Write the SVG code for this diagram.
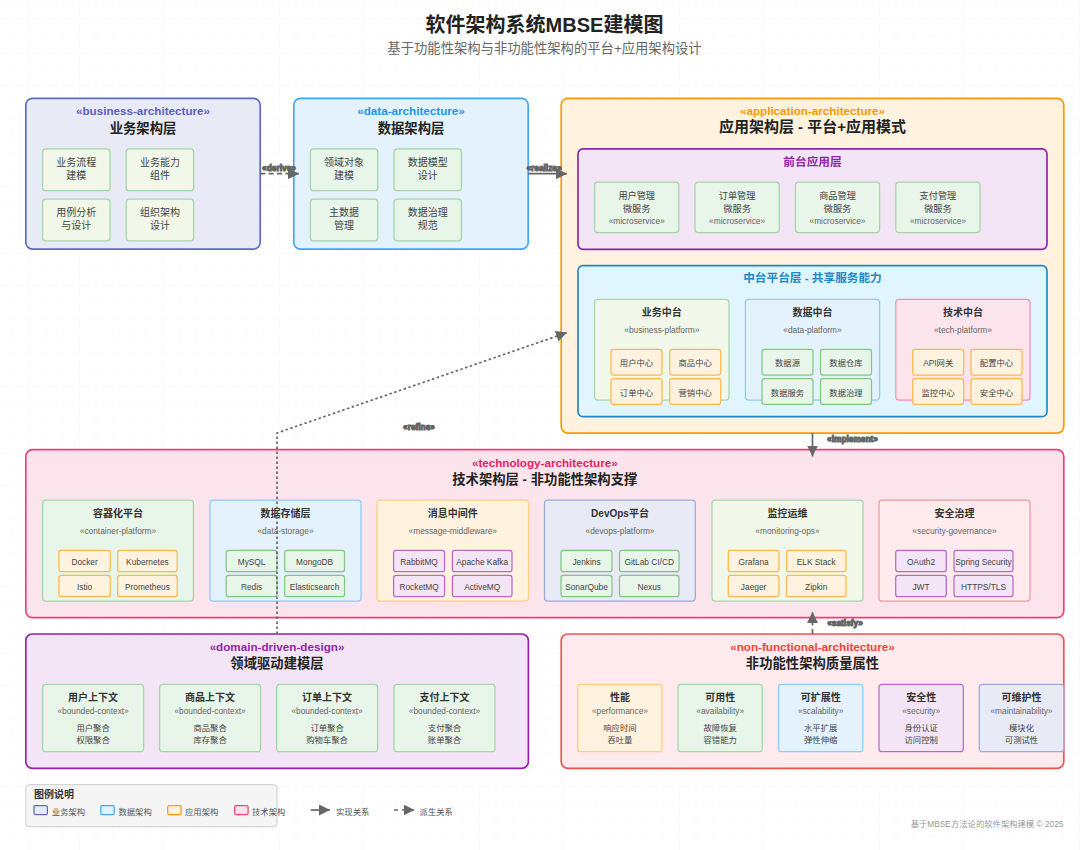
<svg xmlns="http://www.w3.org/2000/svg" width="1080" height="850" viewBox="0 0 1080 850">
<style>
text{font-family:"Liberation Sans","Noto Sans CJK SC",sans-serif;text-anchor:middle;fill:#333}
.title{font-size:20px;font-weight:700;fill:#222}
.subtitle{font-size:13.33px;fill:#666}
.st{font-size:11.67px;font-weight:700}
.h13{font-size:13.33px;font-weight:700;fill:#222}
.h15{font-size:15px;font-weight:700;fill:#222}
.h11{font-size:11.67px;font-weight:700}
.h10{font-size:10px;font-weight:700;fill:#333}
.t10{font-size:10px;fill:#444}
.t9{font-size:9.17px;fill:#444}
.t8{font-size:8.33px;fill:#444}
.s8{font-size:8.33px;fill:#666}
.cl{font-size:8.33px;font-weight:700;fill:#555;stroke:#666;stroke-width:1}
.foot{font-size:8.33px;fill:#999;text-anchor:end}
.lg{font-size:8.33px;fill:#555;text-anchor:start}
.layer{stroke-width:1.67}
.box{stroke-width:1.25}
.bz{fill:#e8eaf6;stroke:#5c6bc0}
.dt{fill:#e3f2fd;stroke:#42a5f5}
.ap{fill:#fff3e0;stroke:#ff9800}
.fr{fill:#f3e5f5;stroke:#8e24aa}
.md{fill:#e1f5fe;stroke:#1e88c8}
.tc{fill:#fce4ec;stroke:#ec407a}
.dd{fill:#f3e5f5;stroke:#8e24aa}
.nf{fill:#ffebee;stroke:#ef5350}
.lime{fill:#f1f8e9;stroke:#a5d6a7}
.green{fill:#e8f5e9;stroke:#a5d6a7}
.igreen{fill:#e8f5e9;stroke:#81c784}
.blue{fill:#e3f2fd;stroke:#90caf9}
.orange{fill:#fff3e0;stroke:#ffcc80}
.iorange{fill:#fff3e0;stroke:#ffb74d}
.pink{fill:#fce4ec;stroke:#f48fb1}
.indigo{fill:#e8eaf6;stroke:#9fa8da}
.red{fill:#ffebee;stroke:#ef9a9a}
.purple{fill:#f3e5f5;stroke:#ba68c8}
.conn{fill:none;stroke:#666;stroke-width:1.67}
</style>
<defs>
<pattern id="grid" width="16.667" height="16.667" patternUnits="userSpaceOnUse" patternTransform="translate(12.2 2.2)">
<path d="M0 0V16.667M0 0H16.667" fill="none" stroke="#f7f7f7" stroke-width="1"/>
</pattern>
<marker id="arrow" markerUnits="userSpaceOnUse" markerWidth="11" markerHeight="11" refX="11" refY="5.5" orient="auto">
<path d="M0 0L11 5.5L0 11z" fill="#666"/>
</marker>
</defs>
<rect width="1080" height="850" fill="#fff"/>
<rect width="1080" height="850" fill="url(#grid)"/>

<g id="header">
<text class="title" x="544.5" y="31.5">软件架构系统MBSE建模图</text>
<text class="subtitle" x="544.5" y="52.5">基于功能性架构与非功能性架构的平台+应用架构设计</text>
</g>

<g id="business-architecture">
<rect class="layer bz" x="25.8" y="98.3" width="234.4" height="150.8" rx="6.67"/>
<text class="st" x="143" y="115.3" style="fill:#5c5fc0">«business-architecture»</text>
<text class="h13" x="143" y="132.5">业务架构层</text>
<rect class="box lime" x="42.6" y="148.8" width="67.4" height="41.9" rx="3.3"/>
<text class="t10" x="76.3" y="165.5">业务流程</text><text class="t10" x="76.3" y="178.5">建模</text>
<rect class="box lime" x="126.2" y="148.8" width="67.4" height="41.9" rx="3.3"/>
<text class="t10" x="159.9" y="165.5">业务能力</text><text class="t10" x="159.9" y="178.5">组件</text>
<rect class="box lime" x="42.6" y="199" width="67.4" height="41.9" rx="3.3"/>
<text class="t10" x="76.3" y="215.5">用例分析</text><text class="t10" x="76.3" y="228.5">与设计</text>
<rect class="box lime" x="126.2" y="199" width="67.4" height="41.9" rx="3.3"/>
<text class="t10" x="159.9" y="215.5">组织架构</text><text class="t10" x="159.9" y="228.5">设计</text>
</g>

<g id="data-architecture">
<rect class="layer dt" x="293.8" y="98.3" width="234.4" height="150.8" rx="6.67"/>
<text class="st" x="411" y="115.3" style="fill:#2196f3">«data-architecture»</text>
<text class="h13" x="411" y="132.5">数据架构层</text>
<rect class="box green" x="310.4" y="148.8" width="67.4" height="41.9" rx="3.3"/>
<text class="t10" x="344.1" y="165.5">领域对象</text><text class="t10" x="344.1" y="178.5">建模</text>
<rect class="box green" x="394" y="148.8" width="67.4" height="41.9" rx="3.3"/>
<text class="t10" x="427.7" y="165.5">数据模型</text><text class="t10" x="427.7" y="178.5">设计</text>
<rect class="box green" x="310.4" y="199" width="67.4" height="41.9" rx="3.3"/>
<text class="t10" x="344.1" y="215.5">主数据</text><text class="t10" x="344.1" y="228.5">管理</text>
<rect class="box green" x="394" y="199" width="67.4" height="41.9" rx="3.3"/>
<text class="t10" x="427.7" y="215.5">数据治理</text><text class="t10" x="427.7" y="228.5">规范</text>
</g>

<g id="application-architecture">
<rect class="layer ap" x="561.2" y="98.3" width="502.6" height="334.8" rx="6.67"/>
<text class="st" x="812.5" y="115.3" style="fill:#ff9800">«application-architecture»</text>
<text class="h15" x="812.5" y="132">应用架构层 - 平台+应用模式</text>
</g>

<g id="frontend-apps">
<rect class="layer fr" x="578" y="148.9" width="469" height="100.4" rx="5"/>
<text class="h11" x="812.5" y="165.8" style="fill:#8e24aa">前台应用层</text>
<rect class="box green" x="594.6" y="182" width="84.2" height="50.6" rx="3.3"/>
<text class="t9" x="636.7" y="199">用户管理</text><text class="t9" x="636.7" y="212.3">微服务</text><text class="s8" x="636.7" y="224">«microservice»</text>
<rect class="box green" x="695" y="182" width="84.2" height="50.6" rx="3.3"/>
<text class="t9" x="737.1" y="199">订单管理</text><text class="t9" x="737.1" y="212.3">微服务</text><text class="s8" x="737.1" y="224">«microservice»</text>
<rect class="box green" x="795.4" y="182" width="84.2" height="50.6" rx="3.3"/>
<text class="t9" x="837.5" y="199">商品管理</text><text class="t9" x="837.5" y="212.3">微服务</text><text class="s8" x="837.5" y="224">«microservice»</text>
<rect class="box green" x="895.8" y="182" width="84.2" height="50.6" rx="3.3"/>
<text class="t9" x="937.9" y="199">支付管理</text><text class="t9" x="937.9" y="212.3">微服务</text><text class="s8" x="937.9" y="224">«microservice»</text>
</g>

<g id="platform-layer">
<rect class="layer md" x="578" y="265.7" width="469" height="151" rx="5"/>
<text class="h11" x="812.5" y="282.4" style="fill:#1e88c8">中台平台层 - 共享服务能力</text>
</g>
<g id="business-platform">
<rect class="box lime" x="594.6" y="299.3" width="134.4" height="100.7" rx="3.3"/>
<text class="h10" x="661.8" y="316">业务中台</text><text class="s8" x="661.8" y="333">«business-platform»</text>
<rect class="box iorange" x="611" y="349.3" width="51" height="25.7" rx="2.5"/><text class="t8" x="636.5" y="366.3">用户中心</text>
<rect class="box iorange" x="669.7" y="349.3" width="51" height="25.7" rx="2.5"/><text class="t8" x="695.2" y="366.3">商品中心</text>
<rect class="box iorange" x="611" y="378.7" width="51" height="25.7" rx="2.5"/><text class="t8" x="636.5" y="396">订单中心</text>
<rect class="box iorange" x="669.7" y="378.7" width="51" height="25.7" rx="2.5"/><text class="t8" x="695.2" y="396">营销中心</text>
</g>
<g id="data-platform">
<rect class="box blue" x="745.4" y="299.3" width="134.2" height="100.7" rx="3.3"/>
<text class="h10" x="812.5" y="316">数据中台</text><text class="s8" x="812.5" y="333">«data-platform»</text>
<rect class="box igreen" x="762" y="349.3" width="51" height="25.7" rx="2.5"/><text class="t8" x="787.5" y="366.3">数据源</text>
<rect class="box igreen" x="820.5" y="349.3" width="51" height="25.7" rx="2.5"/><text class="t8" x="846" y="366.3">数据仓库</text>
<rect class="box igreen" x="762" y="378.7" width="51" height="25.7" rx="2.5"/><text class="t8" x="787.5" y="396">数据服务</text>
<rect class="box igreen" x="820.5" y="378.7" width="51" height="25.7" rx="2.5"/><text class="t8" x="846" y="396">数据治理</text>
</g>
<g id="tech-platform">
<rect class="box pink" x="895.8" y="299.3" width="134.2" height="100.7" rx="3.3"/>
<text class="h10" x="962.9" y="316">技术中台</text><text class="s8" x="962.9" y="333">«tech-platform»</text>
<rect class="box iorange" x="912.7" y="349.3" width="51" height="25.7" rx="2.5"/><text class="t8" x="938.2" y="366.3">API网关</text>
<rect class="box iorange" x="971" y="349.3" width="51" height="25.7" rx="2.5"/><text class="t8" x="996.5" y="366.3">配置中心</text>
<rect class="box iorange" x="912.7" y="378.7" width="51" height="25.7" rx="2.5"/><text class="t8" x="938.2" y="396">监控中心</text>
<rect class="box iorange" x="971" y="378.7" width="51" height="25.7" rx="2.5"/><text class="t8" x="996.5" y="396">安全中心</text>
</g>

<g id="technology-architecture">
<rect class="layer tc" x="25.8" y="449.7" width="1038" height="168" rx="6.67"/>
<text class="st" x="544.8" y="466.7" style="fill:#e91e63">«technology-architecture»</text>
<text class="h13" x="544.8" y="483.5">技术架构层 - 非功能性架构支撑</text>
</g>
<g id="container-platform">
<rect class="box green" x="42.6" y="500" width="150.8" height="101" rx="3.3"/>
<text class="h10" x="118" y="517">容器化平台</text><text class="s8" x="118" y="534">«container-platform»</text>
<rect class="box iorange" x="58.9" y="550.3" width="51.4" height="21.4" rx="2.5"/><text class="t8" x="84.6" y="565">Docker</text>
<rect class="box iorange" x="117.7" y="550.3" width="59.5" height="21.4" rx="2.5"/><text class="t8" x="147.4" y="565">Kubernetes</text>
<rect class="box iorange" x="58.9" y="575.3" width="51.4" height="21.4" rx="2.5"/><text class="t8" x="84.6" y="590">Istio</text>
<rect class="box iorange" x="117.7" y="575.3" width="59.5" height="21.4" rx="2.5"/><text class="t8" x="147.4" y="590">Prometheus</text>
</g>
<g id="data-storage">
<rect class="box blue" x="210" y="500" width="151" height="101" rx="3.3"/>
<text class="h10" x="285.5" y="517">数据存储层</text><text class="s8" x="285.5" y="534">«data-storage»</text>
<rect class="box igreen" x="226.2" y="550.3" width="50.8" height="21.4" rx="2.5"/><text class="t8" x="251.6" y="565">MySQL</text>
<rect class="box igreen" x="284.7" y="550.3" width="59.8" height="21.4" rx="2.5"/><text class="t8" x="314.6" y="565">MongoDB</text>
<rect class="box igreen" x="226.2" y="575.3" width="50.8" height="21.4" rx="2.5"/><text class="t8" x="251.6" y="590">Redis</text>
<rect class="box igreen" x="284.7" y="575.3" width="59.8" height="21.4" rx="2.5"/><text class="t8" x="314.6" y="590">Elasticsearch</text>
</g>
<g id="message-middleware">
<rect class="box orange" x="377" y="500" width="151.5" height="101" rx="3.3"/>
<text class="h10" x="452.8" y="517">消息中间件</text><text class="s8" x="452.8" y="534">«message-middleware»</text>
<rect class="box purple" x="393.6" y="550.3" width="51" height="21.4" rx="2.5"/><text class="t8" x="419.1" y="565">RabbitMQ</text>
<rect class="box purple" x="452.4" y="550.3" width="59.6" height="21.4" rx="2.5"/><text class="t8" x="482.2" y="565">Apache Kafka</text>
<rect class="box purple" x="393.6" y="575.3" width="51" height="21.4" rx="2.5"/><text class="t8" x="419.1" y="590">RocketMQ</text>
<rect class="box purple" x="452.4" y="575.3" width="59.6" height="21.4" rx="2.5"/><text class="t8" x="482.2" y="590">ActiveMQ</text>
</g>
<g id="devops-platform">
<rect class="box indigo" x="544.5" y="500" width="150.8" height="101" rx="3.3"/>
<text class="h10" x="620" y="517">DevOps平台</text><text class="s8" x="620" y="534">«devops-platform»</text>
<rect class="box igreen" x="561" y="550.3" width="51" height="21.4" rx="2.5"/><text class="t8" x="586.5" y="565">Jenkins</text>
<rect class="box igreen" x="619.5" y="550.3" width="59.5" height="21.4" rx="2.5"/><text class="t8" x="649.2" y="565">GitLab CI/CD</text>
<rect class="box igreen" x="561" y="575.3" width="51" height="21.4" rx="2.5"/><text class="t8" x="586.5" y="590">SonarQube</text>
<rect class="box igreen" x="619.5" y="575.3" width="59.5" height="21.4" rx="2.5"/><text class="t8" x="649.2" y="590">Nexus</text>
</g>
<g id="monitoring-ops">
<rect class="box lime" x="712" y="500" width="151" height="101" rx="3.3"/>
<text class="h10" x="787.5" y="517">监控运维</text><text class="s8" x="787.5" y="534">«monitoring-ops»</text>
<rect class="box iorange" x="728.3" y="550.3" width="50.7" height="21.4" rx="2.5"/><text class="t8" x="753.6" y="565">Grafana</text>
<rect class="box iorange" x="786.5" y="550.3" width="59.5" height="21.4" rx="2.5"/><text class="t8" x="816.2" y="565">ELK Stack</text>
<rect class="box iorange" x="728.3" y="575.3" width="50.7" height="21.4" rx="2.5"/><text class="t8" x="753.6" y="590">Jaeger</text>
<rect class="box iorange" x="786.5" y="575.3" width="59.5" height="21.4" rx="2.5"/><text class="t8" x="816.2" y="590">Zipkin</text>
</g>
<g id="security-governance">
<rect class="box red" x="879" y="500" width="151" height="101" rx="3.3"/>
<text class="h10" x="954.5" y="517">安全治理</text><text class="s8" x="954.5" y="534">«security-governance»</text>
<rect class="box purple" x="895.7" y="550.3" width="50.6" height="21.4" rx="2.5"/><text class="t8" x="921" y="565">OAuth2</text>
<rect class="box purple" x="954" y="550.3" width="59" height="21.4" rx="2.5"/><text class="t8" x="983.5" y="565">Spring Security</text>
<rect class="box purple" x="895.7" y="575.3" width="50.6" height="21.4" rx="2.5"/><text class="t8" x="921" y="590">JWT</text>
<rect class="box purple" x="954" y="575.3" width="59" height="21.4" rx="2.5"/><text class="t8" x="983.5" y="590">HTTPS/TLS</text>
</g>

<g id="domain-driven-design">
<rect class="layer dd" x="25.8" y="634" width="502.6" height="134.3" rx="6.67"/>
<text class="st" x="277" y="650.7" style="fill:#8e24aa">«domain-driven-design»</text>
<text class="h13" x="277" y="668">领域驱动建模层</text>
<rect class="box green" x="42.6" y="684.3" width="101" height="67.4" rx="3.3"/>
<text class="h10" x="93.1" y="701.3">用户上下文</text><text class="s8" x="93.1" y="714">«bounded-context»</text><text class="t8" x="93.1" y="730.7">用户聚合</text><text class="t8" x="93.1" y="743">权限聚合</text>
<rect class="box green" x="159.6" y="684.3" width="101" height="67.4" rx="3.3"/>
<text class="h10" x="210.1" y="701.3">商品上下文</text><text class="s8" x="210.1" y="714">«bounded-context»</text><text class="t8" x="210.1" y="730.7">商品聚合</text><text class="t8" x="210.1" y="743">库存聚合</text>
<rect class="box green" x="276.6" y="684.3" width="101" height="67.4" rx="3.3"/>
<text class="h10" x="327.1" y="701.3">订单上下文</text><text class="s8" x="327.1" y="714">«bounded-context»</text><text class="t8" x="327.1" y="730.7">订单聚合</text><text class="t8" x="327.1" y="743">购物车聚合</text>
<rect class="box green" x="394" y="684.3" width="101" height="67.4" rx="3.3"/>
<text class="h10" x="444.5" y="701.3">支付上下文</text><text class="s8" x="444.5" y="714">«bounded-context»</text><text class="t8" x="444.5" y="730.7">支付聚合</text><text class="t8" x="444.5" y="743">账单聚合</text>
</g>

<g id="non-functional-architecture">
<rect class="layer nf" x="561.2" y="634" width="502.6" height="134.3" rx="6.67"/>
<text class="st" x="812.5" y="650.7" style="fill:#f44336">«non-functional-architecture»</text>
<text class="h13" x="812.5" y="668">非功能性架构质量属性</text>
<rect class="box orange" x="577.7" y="684.3" width="84.3" height="67.4" rx="3.3"/>
<text class="h10" x="619.9" y="701.3">性能</text><text class="s8" x="619.9" y="714">«performance»</text><text class="t8" x="619.9" y="730.7">响应时间</text><text class="t8" x="619.9" y="743">吞吐量</text>
<rect class="box green" x="678" y="684.3" width="84.3" height="67.4" rx="3.3"/>
<text class="h10" x="720.2" y="701.3">可用性</text><text class="s8" x="720.2" y="714">«availability»</text><text class="t8" x="720.2" y="730.7">故障恢复</text><text class="t8" x="720.2" y="743">容错能力</text>
<rect class="box blue" x="778.5" y="684.3" width="84.3" height="67.4" rx="3.3"/>
<text class="h10" x="820.7" y="701.3">可扩展性</text><text class="s8" x="820.7" y="714">«scalability»</text><text class="t8" x="820.7" y="730.7">水平扩展</text><text class="t8" x="820.7" y="743">弹性伸缩</text>
<rect class="box purple" x="879" y="684.3" width="84.3" height="67.4" rx="3.3"/>
<text class="h10" x="921.2" y="701.3">安全性</text><text class="s8" x="921.2" y="714">«security»</text><text class="t8" x="921.2" y="730.7">身份认证</text><text class="t8" x="921.2" y="743">访问控制</text>
<rect class="box indigo" x="979.3" y="684.3" width="84.5" height="67.4" rx="3.3"/>
<text class="h10" x="1021.5" y="701.3">可维护性</text><text class="s8" x="1021.5" y="714">«maintainability»</text><text class="t8" x="1021.5" y="730.7">模块化</text><text class="t8" x="1021.5" y="743">可测试性</text>
</g>

<g id="legend">
<rect x="25.8" y="784.7" width="251.2" height="42" rx="3.3" fill="#f5f5f5" stroke="#ccc" stroke-width="1"/>
<text class="h10" x="34" y="797.6" style="text-anchor:start">图例说明</text>
<rect class="box indigo" x="34" y="805.5" width="13.4" height="9.2" rx="1.5" style="stroke:#5c6bc0"/><text class="lg" x="51.8" y="814.7">业务架构</text>
<rect class="box dt" x="100.8" y="805.5" width="13.4" height="9.2" rx="1.5"/><text class="lg" x="118.4" y="814.7">数据架构</text>
<rect class="box ap" x="167.7" y="805.5" width="13.4" height="9.2" rx="1.5"/><text class="lg" x="185" y="814.7">应用架构</text>
<rect class="box tc" x="234.7" y="805.5" width="13.4" height="9.2" rx="1.5"/><text class="lg" x="252" y="814.7">技术架构</text>
<path class="conn" d="M310.7 810H330" marker-end="url(#arrow)"/><text class="lg" x="336" y="814.7">实现关系</text>
<path class="conn" d="M394 810H414.5" stroke-dasharray="4 4" marker-end="url(#arrow)"/><text class="lg" x="419.6" y="814.7">派生关系</text>
</g>
<text class="foot" x="1063.5" y="826.5">基于MBSE方法论的软件架构建模 © 2025</text>

<g id="connectors">
<path class="conn" d="M260.2 173.7H299" stroke-dasharray="5 3.4" marker-end="url(#arrow)"/>
<path class="conn" d="M528.2 173.7H567" marker-end="url(#arrow)"/>
<path class="conn" d="M277 634V433L567 332.6" stroke-dasharray="2.5 2.5" marker-end="url(#arrow)"/>
<path class="conn" d="M812.5 433V456.5" marker-end="url(#arrow)"/>
<path class="conn" d="M812.5 634V612" stroke-dasharray="5 3.4" marker-end="url(#arrow)"/>
<text class="cl" x="279" y="170.5">«derive»</text>
<text class="cl" x="544" y="170.5">«realize»</text>
<text class="cl" x="419" y="430">«refine»</text>
<text class="cl" x="852.5" y="442">«implement»</text>
<text class="cl" x="845" y="626">«satisfy»</text>
</g>
</svg>
